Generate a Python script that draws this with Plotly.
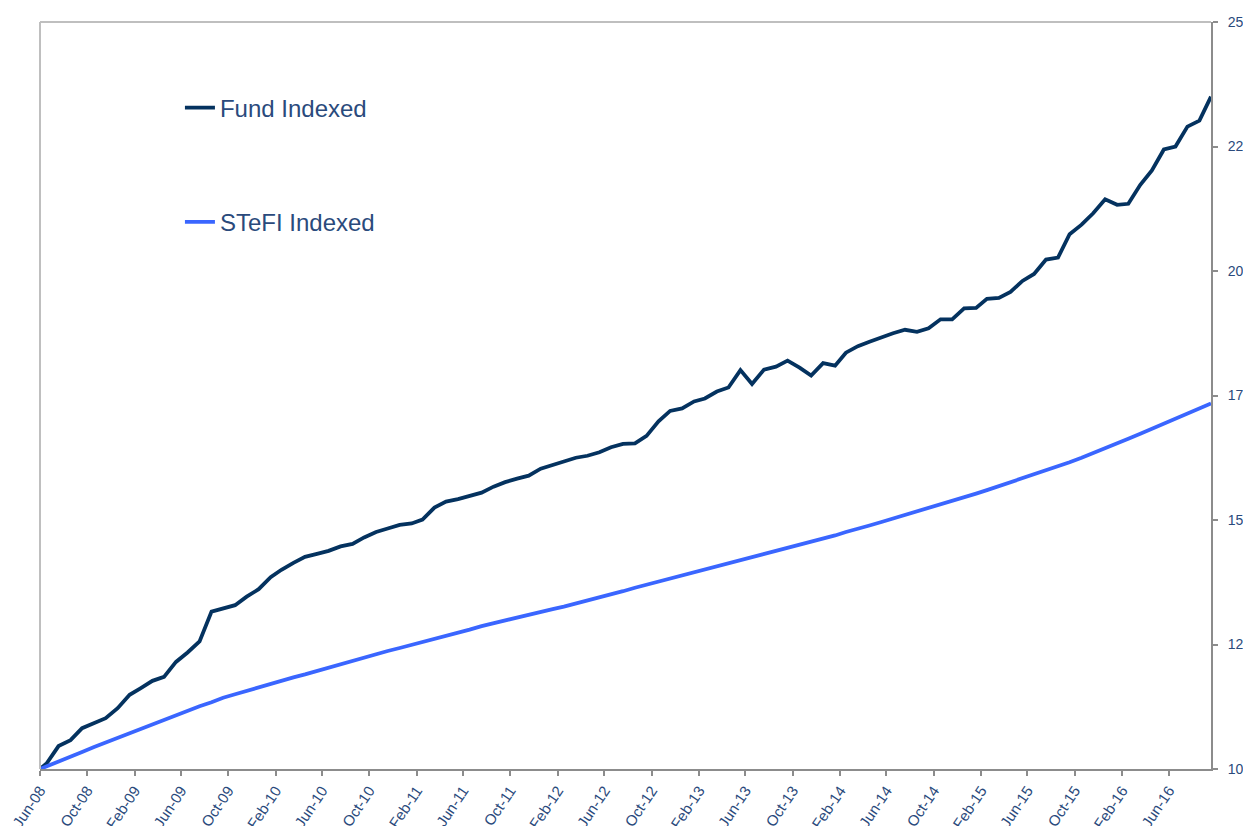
import pandas as pd
import plotly.graph_objects as go

# Inception date, then month-end observations Jun-08 .. Sep-16
start_date = "2008-06-13"
first_month_end = "2008-06-30"
n_month_ends = 100

fund_indexed = [
    10.00, 10.11, 10.46, 10.58, 10.82, 10.93, 11.02, 11.22, 11.49, 11.62,
    11.77, 11.85, 12.15, 12.34, 12.56, 13.16, 13.23, 13.29, 13.46, 13.61,
    13.85, 14.00, 14.14, 14.26, 14.32, 14.38, 14.47, 14.52, 14.65, 14.76,
    14.83, 14.90, 14.93, 15.01, 15.25, 15.37, 15.42, 15.48, 15.55, 15.67,
    15.76, 15.83, 15.89, 16.03, 16.11, 16.18, 16.25, 16.29, 16.36, 16.46,
    16.53, 16.54, 16.69, 16.98, 17.19, 17.24, 17.38, 17.44, 17.58, 17.66,
    18.01, 17.73, 18.02, 18.08, 18.20, 18.06, 17.90, 18.15, 18.10, 18.36,
    18.49, 18.58, 18.67, 18.75, 18.82, 18.78, 18.85, 19.03, 19.03, 19.25,
    19.26, 19.44, 19.46, 19.58, 19.80, 19.94, 20.23, 20.27, 20.74, 20.93,
    21.16, 21.44, 21.33, 21.35, 21.73, 22.02, 22.44, 22.50, 22.90, 23.02,
    23.50,
]

stefi_indexed = [
    10.00, 10.05, 10.15, 10.24, 10.34, 10.44, 10.53, 10.63, 10.73, 10.82,
    10.91, 11.00, 11.09, 11.17, 11.26, 11.34, 11.43, 11.50, 11.57, 11.64,
    11.71, 11.77, 11.84, 11.90, 11.97, 12.03, 12.10, 12.17, 12.24, 12.30,
    12.37, 12.43, 12.49, 12.56, 12.62, 12.68, 12.74, 12.80, 12.87, 12.93,
    12.99, 13.04, 13.10, 13.15, 13.21, 13.26, 13.32, 13.38, 13.45, 13.51,
    13.57, 13.64, 13.70, 13.76, 13.83, 13.89, 13.95, 14.01, 14.07, 14.13,
    14.19, 14.25, 14.32, 14.38, 14.44, 14.50, 14.56, 14.63, 14.69, 14.76,
    14.82, 14.89, 14.96, 15.03, 15.09, 15.16, 15.23, 15.30, 15.38, 15.45,
    15.53, 15.60, 15.68, 15.75, 15.83, 15.91, 15.99, 16.08, 16.16, 16.25,
    16.34, 16.44, 16.53, 16.63, 16.73, 16.83, 16.93, 17.03, 17.13, 17.24,
    17.34,
]

x_tick_labels = [
    "Jun-08", "Oct-08", "Feb-09", "Jun-09", "Oct-09", "Feb-10", "Jun-10",
    "Oct-10", "Feb-11", "Jun-11", "Oct-11", "Feb-12", "Jun-12", "Oct-12",
    "Feb-13", "Jun-13", "Oct-13", "Feb-14", "Jun-14", "Oct-14", "Feb-15",
    "Jun-15", "Oct-15", "Feb-16", "Jun-16",
]

y_tick_values = [10, 12.5, 15, 17.5, 20, 22.5, 25]
y_tick_labels = ["10", "12", "15", "17", "20", "22", "25"]

series_names = ["Fund Indexed", "STeFI Indexed"]
series_colors = ["#04325F", "#3A66FF"]

# ---- build x dates ----
dates = [pd.Timestamp(start_date)] + list(
    pd.date_range(first_month_end, periods=n_month_ends, freq=pd.offsets.MonthEnd())
)
tick_dates = [pd.Timestamp(start_date) + pd.DateOffset(months=4 * i)
              for i in range(len(x_tick_labels))]

font_family = "Arial, Liberation Sans, sans-serif"
text_color = "#2A4A7C"

fig = go.Figure()
for name, vals, col in zip(series_names, [fund_indexed, stefi_indexed], series_colors):
    fig.add_trace(go.Scatter(
        x=dates, y=vals, mode="lines", name=name, legendgroup=name,
        line=dict(color=col, width=3.8),
    ))

fig.update_layout(
    width=1243, height=826,
    margin=dict(l=40, r=32, t=22, b=57),
    paper_bgcolor="white", plot_bgcolor="white",
    font=dict(family=font_family, color=text_color, size=14),
    showlegend=True,
    legend=dict(
        x=0.1195, y=0.915, xanchor="left", yanchor="top",
        font=dict(size=24, color=text_color, family=font_family),
        bgcolor="rgba(0,0,0,0)", traceorder="grouped", tracegroupgap=80,
        itemwidth=30,
    ),
    xaxis=dict(
        type="date",
        range=[dates[0], dates[-1]],
        tickmode="array", tickvals=tick_dates, ticktext=x_tick_labels,
        tickangle=-56, ticks="outside", ticklen=5, tickcolor="#8C8C8C", tickwidth=2,
        showline=True, linecolor="#8C8C8C", linewidth=2,
        showgrid=False, zeroline=False, automargin=False,
        tickfont=dict(size=15, color=text_color),
    ),
    yaxis=dict(
        side="right",
        range=[10, 25],
        tickmode="array", tickvals=y_tick_values, ticktext=y_tick_labels,
        ticks="outside", ticklen=5, tickcolor="#8C8C8C", tickwidth=2,
        ticklabelstandoff=7,
        showline=True, linecolor="#8C8C8C", linewidth=2,
        showgrid=False, zeroline=False, automargin=False,
        tickfont=dict(size=14, color=text_color),
    ),
    shapes=[
        dict(type="line", xref="paper", yref="paper", x0=0, x1=1, y0=1, y1=1,
             line=dict(color="#BFBFBF", width=2)),
        dict(type="line", xref="paper", yref="paper", x0=0, x1=0, y0=0, y1=1,
             line=dict(color="#BFBFBF", width=2)),
    ],
)

# remove the browser's default body margin so the figure fills the window exactly
fig.write_html(
    "out.html",
    config={"displayModeBar": False},
    post_script="document.body.style.margin='0';document.body.style.overflow='hidden';",
)
